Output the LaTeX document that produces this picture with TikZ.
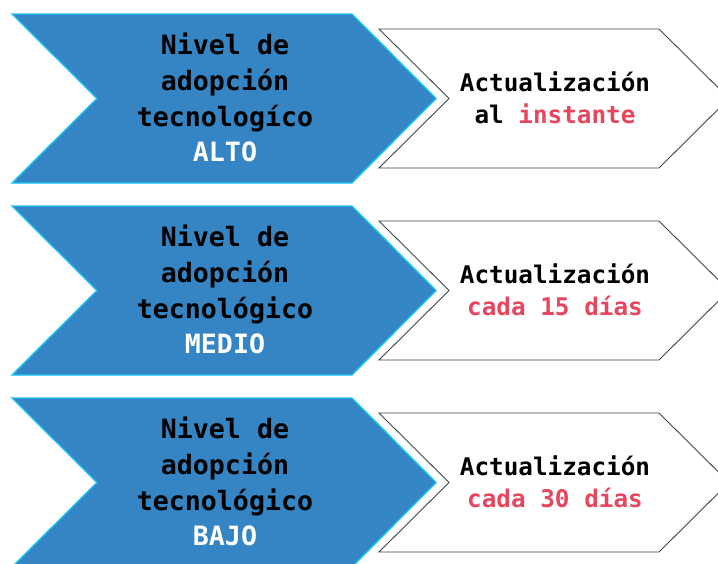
\documentclass[tikz,border=0pt]{standalone}
\usepackage{fontspec}
\newfontfamily\monob{DejaVu Sans Mono}[BoldFont={DejaVu Sans Mono Bold}]
\definecolor{chevblue}{HTML}{3584C4}
\definecolor{chevcyan}{HTML}{18C4F4}
\definecolor{chevgrey}{HTML}{44444F}
\definecolor{accentpink}{HTML}{E8455F}
\tikzset{
  bluechev/.style={fill=chevblue, draw=chevcyan, line width=1.4pt, line join=miter},
  whitechev/.style={fill=white, draw=chevgrey, line width=0.9pt, line join=miter},
  lefttext/.style={anchor=base, inner sep=0pt, font=\monob\bfseries\fontsize{26.6}{30}\selectfont, text=black},
  levtext/.style={lefttext, text=white},
  righttext/.style={anchor=base, inner sep=0pt, font=\monob\bfseries\fontsize{24.3}{28}\selectfont, text=black},
  pinktext/.style={righttext, text=accentpink}
}
\begin{document}
\begin{tikzpicture}[x=1pt,y=-1pt]
\useasboundingbox (0,0) rectangle (718,563);
\clip (0,0) rectangle (718,563);
\fill[white] (0,0) rectangle (718,563);
% chevrons
\foreach \c in {98.5,290.5,482.5}{
  \draw[bluechev] (12,\c-84.5) -- (352,\c-84.5) -- (436,\c) -- (352,\c+84.5) -- (12,\c+84.5) -- (97,\c) -- cycle;
  \draw[whitechev] (379,\c-69.5) -- (659,\c-69.5) -- (729,\c) -- (659,\c+69.5) -- (379,\c+69.5) -- (449,\c) -- cycle;
}
% row 1
\node[lefttext] (a1) at (225,54) {Nivel de};
\node[lefttext] (a2) at (225,90) {adopción};
\node[lefttext] (a3) at (225,126) {tecnologíco};
\node[levtext] (a4) at (225,161) {ALTO};
\node[righttext] (ar1) at (555,91) {Actualización};
\node[righttext] (ar2) at (555,123) {al \textcolor{accentpink}{instante}};
% row 2
\node[lefttext] (b1) at (225,246) {Nivel de};
\node[lefttext] (b2) at (225,282) {adopción};
\node[lefttext] (b3) at (225,318) {tecnológico};
\node[levtext] (b4) at (225,353) {MEDIO};
\node[righttext] (br1) at (555,283) {Actualización};
\node[pinktext] (br2) at (555,315) {cada 15 días};
% row 3
\node[lefttext] (c1) at (225,438) {Nivel de};
\node[lefttext] (c2) at (225,474) {adopción};
\node[lefttext] (c3) at (225,510) {tecnológico};
\node[levtext] (c4) at (225,545) {BAJO};
\node[righttext] (cr1) at (555,475) {Actualización};
\node[pinktext] (cr2) at (555,507) {cada 30 días};
\end{tikzpicture}
\end{document}
